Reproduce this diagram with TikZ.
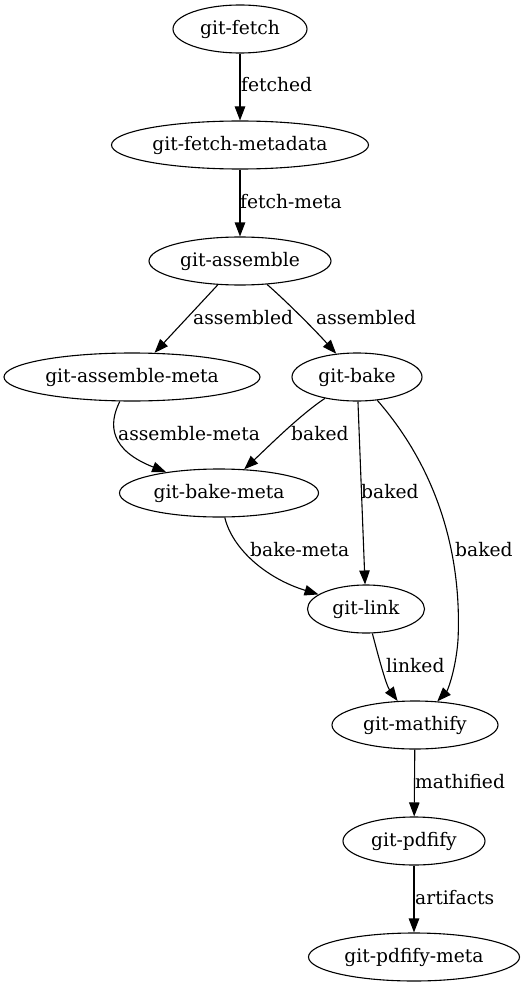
\documentclass[tikz,border=0pt]{standalone}
\usepackage{fontspec}
\setmainfont{DejaVu Serif}
\usetikzlibrary{shapes.geometric,arrows.meta}
\begin{document}
\begin{tikzpicture}[x=1pt,y=-1pt,
  gnode/.style={ellipse,draw,line width=1.1pt,inner sep=0pt,minimum height=48pt,font=\fontsize{18.67}{22}\selectfont},
  edge/.style={draw,line width=1.1pt,-{Triangle[length=14pt,width=10.5pt]}},
  elabel/.style={anchor=base west,inner sep=0pt,font=\fontsize{18.67}{22}\selectfont}]
\useasboundingbox (0,0) rectangle (526,987);
% nodes
\node[gnode,minimum width=134pt] (fetch) at (240,29) {git-fetch};
\node[gnode,minimum width=257pt] (fmeta) at (240,145) {git-fetch-metadata};
\node[gnode,minimum width=182pt] (asm) at (240,261) {git-assemble};
\node[gnode,minimum width=256pt] (asmeta) at (132,377) {git-assemble-meta};
\node[gnode,minimum width=130pt] (bake) at (357,377) {git-bake};
\node[gnode,minimum width=199pt] (bmeta) at (219,493) {git-bake-meta};
\node[gnode,minimum width=117pt] (link) at (366,609) {git-link};
\node[gnode,minimum width=166pt] (math) at (415,725) {git-mathify};
\node[gnode,minimum width=142pt] (pdf) at (414,841) {git-pdfify};
\node[gnode,minimum width=211pt] (pmeta) at (414,957) {git-pdfify-meta};
% control points
\coordinate (c1) at (285,300);
\coordinate (c2) at (315,330);
\coordinate (c3) at (108,425);
\coordinate (c4) at (110,450);
\coordinate (c5) at (300,415);
\coordinate (c6) at (270,445);
\coordinate (c7) at (438,470);
\coordinate (c8) at (462,555);
\coordinate (c9) at (458,640);
\coordinate (c10) at (232,548);
\coordinate (c11) at (265,578);
\coordinate (c12) at (378,655);
\coordinate (c13) at (386,685);
% edges
\draw[edge] (fetch) -- (fmeta);
\draw[edge] (fmeta) -- (asm);
\draw[edge] (asm) -- (asmeta);
\draw[edge] (asm) .. controls (c1) and (c2) .. (bake);
\draw[edge] (asmeta) .. controls (c3) and (c4) .. (bmeta);
\draw[edge] (bake) .. controls (c5) and (c6) .. (bmeta);
\draw[edge] (bake) -- (link);
\draw[edge] (bake) .. controls (c7) and (c8) .. (c9) .. controls (456,668) and (448,690) .. (math);
\draw[edge] (bmeta) .. controls (c10) and (c11) .. (link);
\draw[edge] (link) .. controls (c12) and (c13) .. (math);
\draw[edge] (math) -- (pdf);
\draw[edge] (pdf) -- (pmeta);
% labels
\node[elabel] (l1) at (241,92) {fetched};
\node[elabel] (l2) at (240,208) {fetch-meta};
\node[elabel] (l3) at (193,324) {assembled};
\node[elabel] (l4) at (316,324) {assembled};
\node[elabel] (l5) at (118,440) {assemble-meta};
\node[elabel] (l6) at (291,440) {baked};
\node[elabel] (l7) at (361,498) {baked};
\node[elabel] (l8) at (455,556) {baked};
\node[elabel] (l9) at (250,556) {bake-meta};
\node[elabel] (l10) at (386,672) {linked};
\node[elabel] (l11) at (415,788) {mathified};
\node[elabel] (l12) at (415,904) {artifacts};
\end{tikzpicture}
\end{document}
